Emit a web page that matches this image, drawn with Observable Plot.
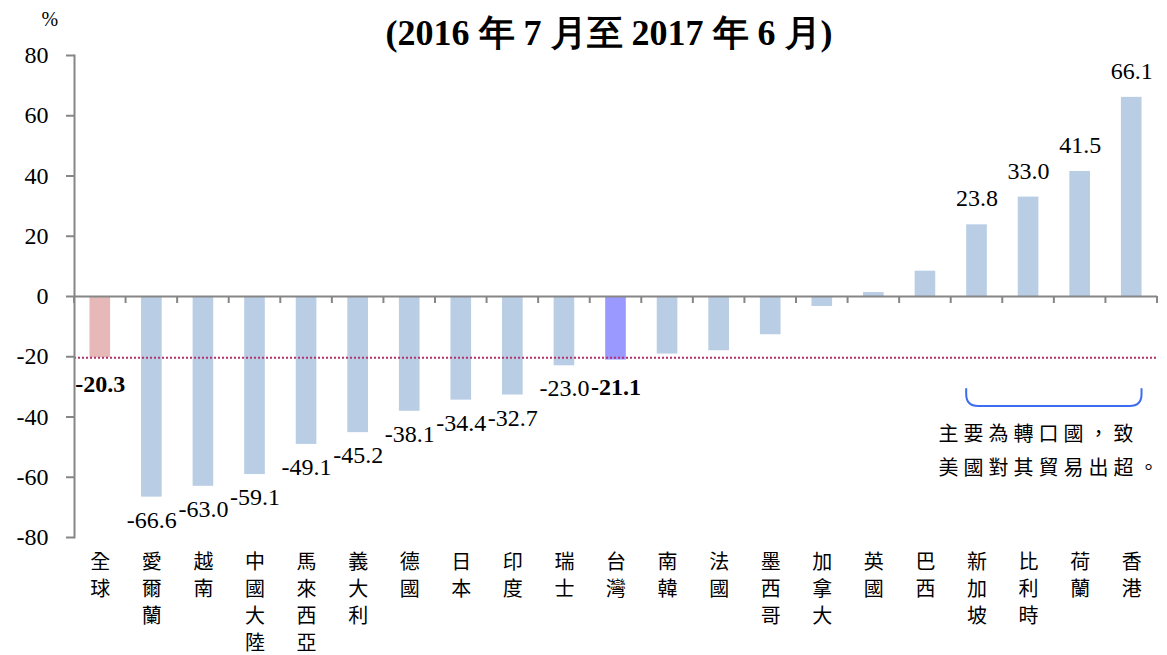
<!DOCTYPE html>
<html><head><meta charset="utf-8">
<script src="https://cdn.jsdelivr.net/npm/d3@7"></script>
<script src="https://cdn.jsdelivr.net/npm/@observablehq/plot@0.6"></script>
<style>
body{margin:0;background:#fff;}
#chart{width:1167px;height:655px;}
</style></head><body><div id="chart"></div>
<script>
// ---- data ----
const categories = ["全球","愛爾蘭","越南","中國大陸","馬來西亞","義大利","德國","日本","印度","瑞士","台灣","南韓","法國","墨西哥","加拿大","英國","巴西","新加坡","比利時","荷蘭","香港"];
const values = [-20.3,-66.6,-63.0,-59.1,-49.1,-45.2,-38.1,-34.4,-32.7,-23.0,-21.1,-19.1,-18.0,-12.7,-3.3,1.3,8.4,23.8,33.0,41.5,66.1];
const yTicks = [-80,-60,-40,-20,0,20,40,60,80];
const labelled = ["全球","愛爾蘭","越南","中國大陸","馬來西亞","義大利","德國","日本","印度","瑞士","台灣","新加坡","比利時","荷蘭","香港"];
const boldLabels = ["全球","台灣"];
const referenceValue = -20.3;
const noteLines = ["主要為轉口國，致","美國對其貿易出超。"];
const noteRange = ["新加坡","香港"];
const title = "(2016 年 7 月至 2017 年 6 月)";
const unit = "%";

const SERIF = "'Liberation Serif', 'Times New Roman', Times, serif";
const CJK = "'Noto Sans CJK TC', 'Noto Sans CJK JP', sans-serif";

const data = categories.map((c, i) => ({name: c, value: values[i]}));
const fillOf = d => d.name === "全球" ? "#e6b9b8" : d.name === "台灣" ? "#9999ff" : "#b9cde5";
const negLab = data.filter(d => labelled.includes(d.name) && d.value < 0 && !boldLabels.includes(d.name));
const posLab = data.filter(d => labelled.includes(d.name) && d.value >= 0);
const boldLab = data.filter(d => boldLabels.includes(d.name));

const chart = Plot.plot({
  width: 1167, height: 655,
  marginLeft: 74, marginRight: 10, marginTop: 55, marginBottom: 118,
  style: {fontFamily: SERIF, background: "#fff", color: "#000"},
  x: {domain: categories, paddingInner: 0.6, paddingOuter: 0.3, round: false, axis: null},
  y: {domain: [-80, 80], axis: null},
  marks: [
    Plot.barY(data, {x: "name", y: "value", fill: fillOf}),
    Plot.ruleY([referenceValue], {stroke: "#b3306b", strokeWidth: 2, strokeDasharray: "2,2"}),
    Plot.ruleY([0], {stroke: "#868686", strokeWidth: 2}),
    Plot.frame({anchor: "left", stroke: "#868686", strokeWidth: 2}),
    Plot.axisY({ticks: yTicks, tickSize: 8, tickPadding: 18, tickFormat: d => String(d), fontSize: 24, fontFamily: SERIF, stroke: "#868686", strokeWidth: 2, fill: "#000", label: null}),
    Plot.axisX({tickSize: 0, tickPadding: 12, tickFormat: d => d.split("").join("\n"), fontSize: 20, fontFamily: CJK, lineHeight: 1.35, fill: "#000", label: null}),
    Plot.text(negLab, {x: "name", y: "value", text: d => d.value.toFixed(1), dy: 23, fontSize: 24, fontFamily: SERIF, fill: "#000"}),
    Plot.text(boldLab, {x: "name", y: "value", text: d => d.value.toFixed(1), dy: 27, fontSize: 24, fontFamily: SERIF, fontWeight: "bold", fill: "#000"}),
    Plot.text(posLab, {x: "name", y: "value", text: d => d.value.toFixed(1), dy: -26, fontSize: 24, fontFamily: SERIF, fill: "#000"}),
    Plot.text([title], {frameAnchor: "top", lineAnchor: "middle", dx: -7, dy: -22, fontSize: 36, fontFamily: SERIF, fontWeight: "bold", fill: "#000"}),
    Plot.text([unit], {frameAnchor: "top-left", lineAnchor: "middle", dx: -33, dy: -36, fontSize: 20, fontFamily: SERIF, fill: "#000"}),
    Plot.text([noteLines.join("\n")], {frameAnchor: "top-left", dx: 864, dy: 392, textAnchor: "start", lineAnchor: "middle", fontSize: 20, lineHeight: 1.7, fontFamily: CJK, fill: "#000"})
  ]
});
document.getElementById("chart").appendChild(chart);

// ---- annotations via the plot's own scales ----
const svg = d3.select(chart.tagName.toLowerCase() === "svg" ? chart : chart.querySelector("svg"));
const sx = chart.scale("x"), sy = chart.scale("y");
const bw = sx.bandwidth, step = sx.step;
const y0 = sy.apply(0);
const g = svg.append("g");
const bounds = categories.map(c => sx.apply(c) + bw / 2 - step / 2);
bounds.push(sx.apply(categories[categories.length - 1]) + bw / 2 + step / 2);
g.selectAll("line").data(bounds).join("line")
  .attr("x1", d => d).attr("x2", d => d).attr("y1", y0).attr("y2", y0 + 7)
  .attr("stroke", "#868686").attr("stroke-width", 2);
const bx0 = sx.apply(noteRange[0]), bx1 = sx.apply(noteRange[1]) + bw;
const byT = sy.apply(-30.6), byB = sy.apply(-36.5), r = 12;
svg.append("path")
  .attr("d", `M${bx0},${byT}V${byB - r}Q${bx0},${byB} ${bx0 + r},${byB}H${bx1 - r}Q${bx1},${byB} ${bx1},${byB - r}V${byT}`)
  .attr("fill", "none").attr("stroke", "#3d6cf0").attr("stroke-width", 2);
svg.selectAll("text").filter(function () { return this.textContent.includes("主要"); })
  .style("letter-spacing", "5px");
</script></body></html>
